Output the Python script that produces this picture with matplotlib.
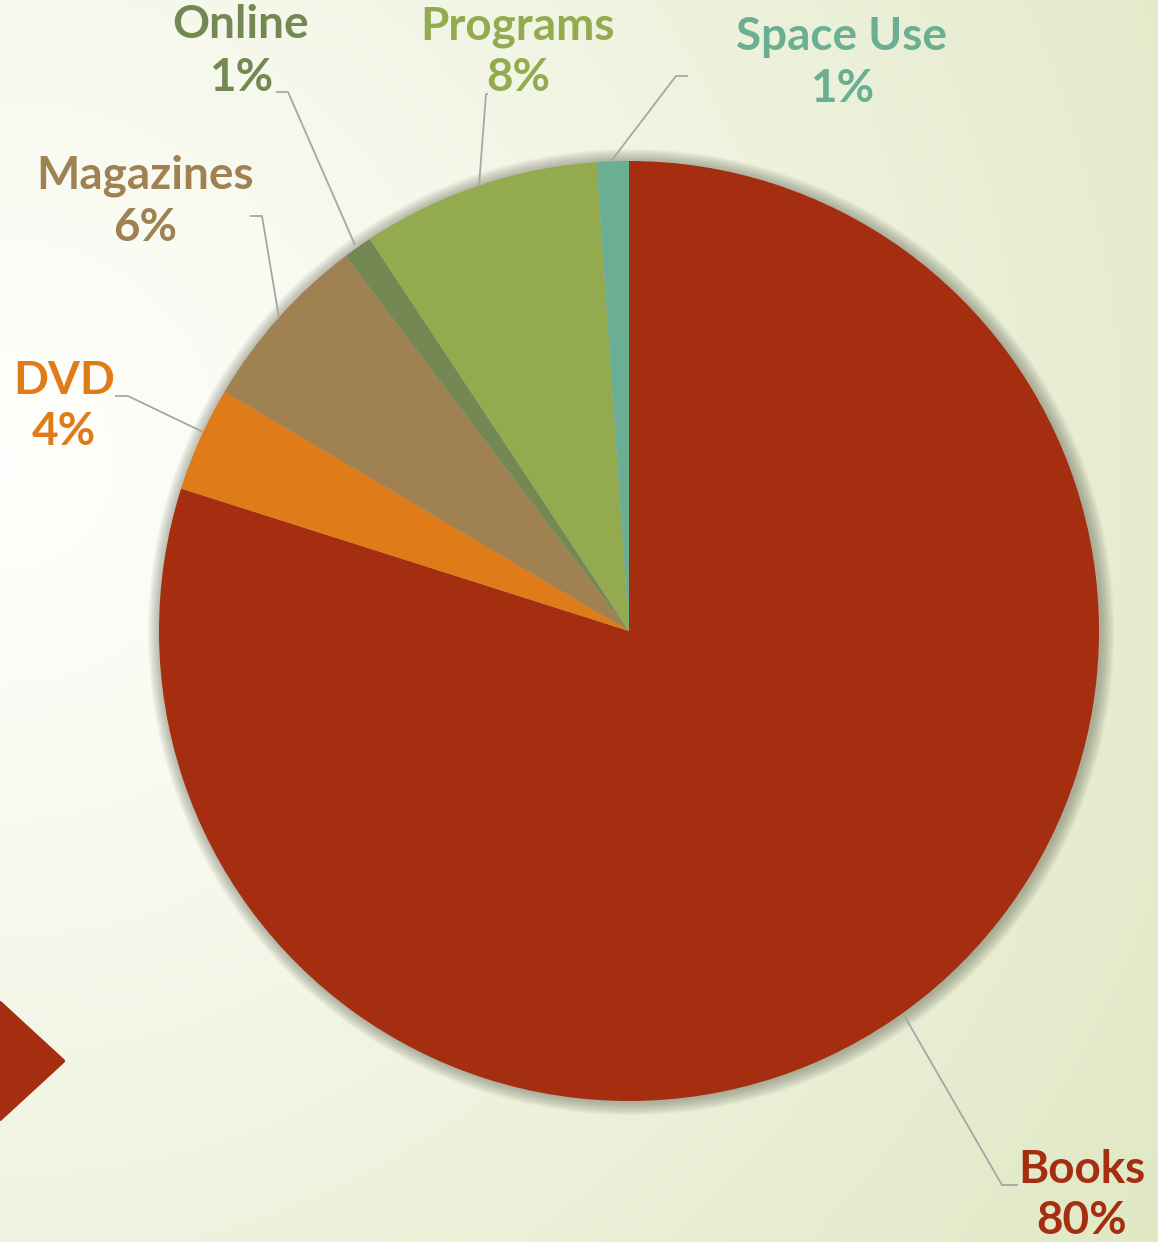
import matplotlib.pyplot as plt
import numpy as np
from matplotlib.patches import Circle, Polygon

# data
labels = ["Books", "DVD", "Magazines", "Online", "Programs", "Space Use"]
values = [79.9, 3.6, 6.2, 1.0, 8.2, 1.1]
pct_text = ["80%", "4%", "6%", "1%", "8%", "1%"]
colors = ["#a52e10", "#df7b19", "#a08151", "#748853", "#93ab4e", "#6aae93"]

W, H = 1158, 1242
fig = plt.figure(figsize=(W / 100, H / 100), dpi=100)
ax = fig.add_axes([0, 0, 1, 1])
ax.set_xlim(0, W)
ax.set_ylim(0, H)
ax.set_aspect("equal")
ax.axis("off")

# background: soft radial gradient white -> pale green
yy, xx = np.mgrid[0:H:4, 0:W:4]
d = np.sqrt((xx - 0) ** 2 + (yy - 780) ** 2) / 1400.0
t = np.clip(d, 0, 1) ** 1.1
white = np.array([1.0, 1.0, 0.99])
green = np.array([224, 232, 196]) / 255.0
img = white[None, None, :] * (1 - t[..., None]) + green[None, None, :] * t[..., None]
ax.imshow(img, extent=[0, W, H, 0], zorder=0, interpolation="bilinear")

# red diamond at bottom-left
ax.add_patch(Polygon([(63, H - 1061), (0, H - 1003), (-60, H - 1061), (0, H - 1119)],
                     closed=True, facecolor="#a52e10", edgecolor="#a52e10",
                     linewidth=3, joinstyle="round", zorder=1))

cx, cy, R = 629, H - 631, 470

# soft shadow
for i in range(12):
    ax.add_patch(Circle((cx + 2, cy - 1), R + 1 + i * 1.1, facecolor="#6e7060",
                        alpha=0.05, edgecolor="none", zorder=1))

ax.pie(values, colors=colors, startangle=90, counterclock=False,
       center=(cx, cy), radius=R, frame=True,
       wedgeprops=dict(linewidth=0, zorder=2))
ax.set_xlim(0, W)
ax.set_ylim(0, H)
ax.axis("off")

# labels: (name x, name y, pct y) in pixel coords from top
label_pos = {
    "Books": (1082, 1170, 1221),
    "DVD": (64, 381, 432),
    "Magazines": (145, 176, 228),
    "Online": (241, 25, 78),
    "Programs": (518, 27, 78),
    "Space Use": (842, 37, 89),
}
leaders = {
    "Books": [(1018, 1185), (1002, 1185), (905, 1017)],
    "DVD": [(115, 396), (128, 396), (203, 432)],
    "Magazines": [(250, 216), (262, 216), (279, 318)],
    "Online": [(276, 92), (288, 92), (355, 245)],
    "Programs": [(488, 94), (486, 94), (479, 186)],
    "Space Use": [(688, 76), (676, 76), (612, 160)],
}

font = dict(family=["Lato", "DejaVu Sans"], fontweight="bold", fontsize=33)
for lab, pct, col in zip(labels, pct_text, colors):
    x, y1, y2 = label_pos[lab]
    ax.text(x, H - y1, lab, color=col, ha="center", va="center", zorder=5, **font)
    ax.text(x, H - y2, pct, color=col, ha="center", va="center", zorder=5, **font)
    pts = leaders[lab]
    ax.plot([p[0] for p in pts], [H - p[1] for p in pts], color="#a6a6a6",
            linewidth=1.3, zorder=4, solid_capstyle="butt")

fig.savefig("out.png", dpi=100)
